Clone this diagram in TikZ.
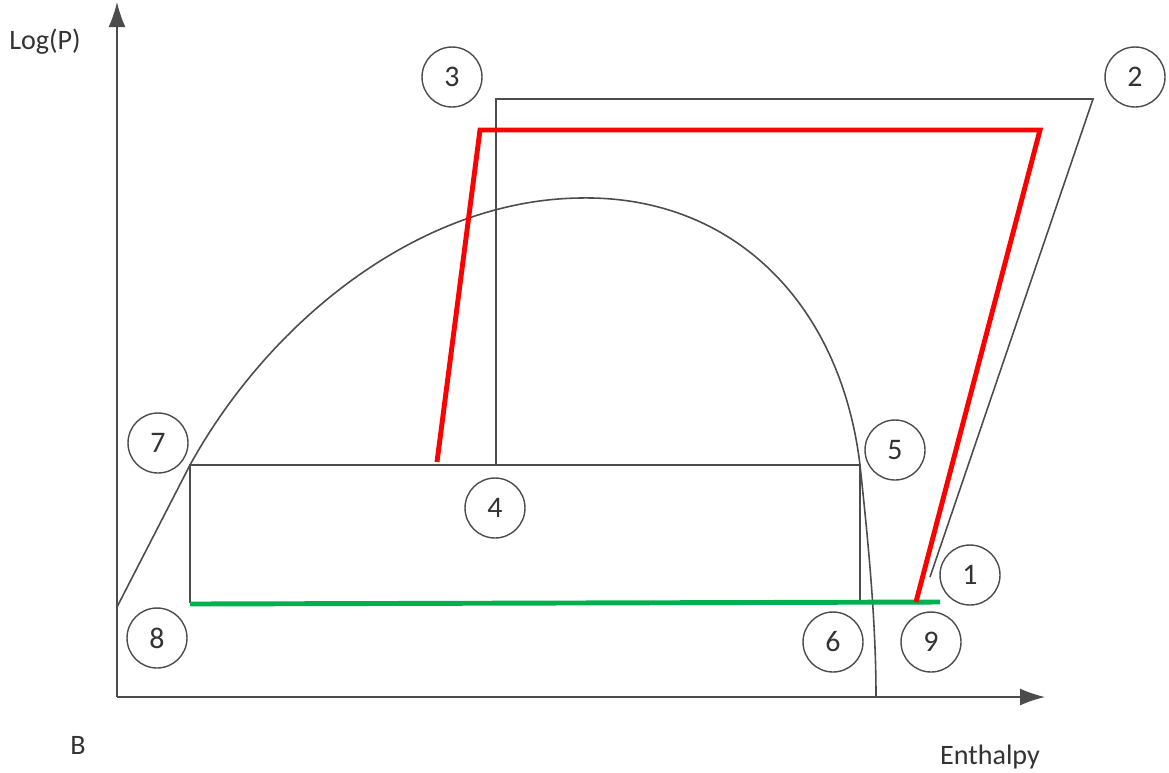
\documentclass[tikz,border=0pt]{standalone}
\usepackage{fontspec}
\setmainfont{Carlito}
\usepackage{xcolor}
\usetikzlibrary{arrows.meta}

\definecolor{cycgreen}{RGB}{0,176,80}

\begin{document}
\begin{tikzpicture}[x=0.02cm,y=-0.02cm,
    num/.style={circle,draw=black!70,line width=0.8pt,minimum size=1.2cm,inner sep=0pt,font=\fontsize{17}{20}\selectfont,text=black!80},
    ln/.style={draw=black!70,line width=0.9pt},
    axis/.style={-{Latex[length=0.5cm,width=0.34cm]},line width=0.9pt,draw=black!70},
    hot/.style={red,line width=2.8pt},
    cold/.style={cycgreen,line width=2.8pt},
    lab/.style={font=\fontsize{16}{19}\selectfont,text=black!80}
  ]
    \useasboundingbox (0,0) rectangle (1169,772);
    % axes
    \coordinate (o) at (117,697);
    \coordinate (ytop) at (117,2);
    \coordinate (xend) at (1045,697);
    \draw[axis] (o) -- (ytop);
    \draw[axis] (o) -- (xend);
    \node[lab] (ylab) at (45,42) {Log(P)};
    \node[lab] (blab) at (78,745) {B};
    \node[lab] (xlab) at (990,757) {Enthalpy};
    % cycle corners
    \coordinate (p7) at (190,465);
    \coordinate (p5) at (860,465);
    \coordinate (p8) at (190,603);
    \coordinate (p6) at (860,603);
    \coordinate (p3) at (496,99);
    \coordinate (p4) at (496,465);
    \coordinate (p2) at (1093,99);
    \coordinate (p1) at (930,577);
    % saturation dome
    \coordinate (d0) at (117,607);
    \coordinate (top) at (580,198);
    \coordinate (d1) at (876,697);
    \draw[ln] (d0) -- (p7) .. controls (270,320) and (420,200) .. (top)
      .. controls (730,195) and (840,300) .. (p5)
      .. controls (868,540) and (876,620) .. (d1);
    \draw[ln] (p8) -- (p7) -- (p5) -- (p6);
    \draw[ln] (p4) -- (p3) -- (p2) -- (p1);
    % red and green cycle
    \coordinate (r1) at (437,462);
    \coordinate (r2) at (480,130);
    \coordinate (r3) at (1040,130);
    \coordinate (r4) at (916,602);
    \coordinate (g1) at (190,604);
    \coordinate (g2) at (940,602);
    \draw[cold] (g1) -- (g2);
    \draw[hot,line join=miter] (r1) -- (r2) -- (r3) -- (r4);
    % state numbers
    \node[num] (n1) at (970,575) {1};
    \node[num] (n2) at (1135,77) {2};
    \node[num] (n3) at (452,77) {3};
    \node[num] (n4) at (495,508) {4};
    \node[num] (n5) at (895,450) {5};
    \node[num] (n6) at (833,642) {6};
    \node[num] (n7) at (158,443) {7};
    \node[num] (n8) at (157,638) {8};
    \node[num] (n9) at (931,642) {9};
\end{tikzpicture}
\end{document}
